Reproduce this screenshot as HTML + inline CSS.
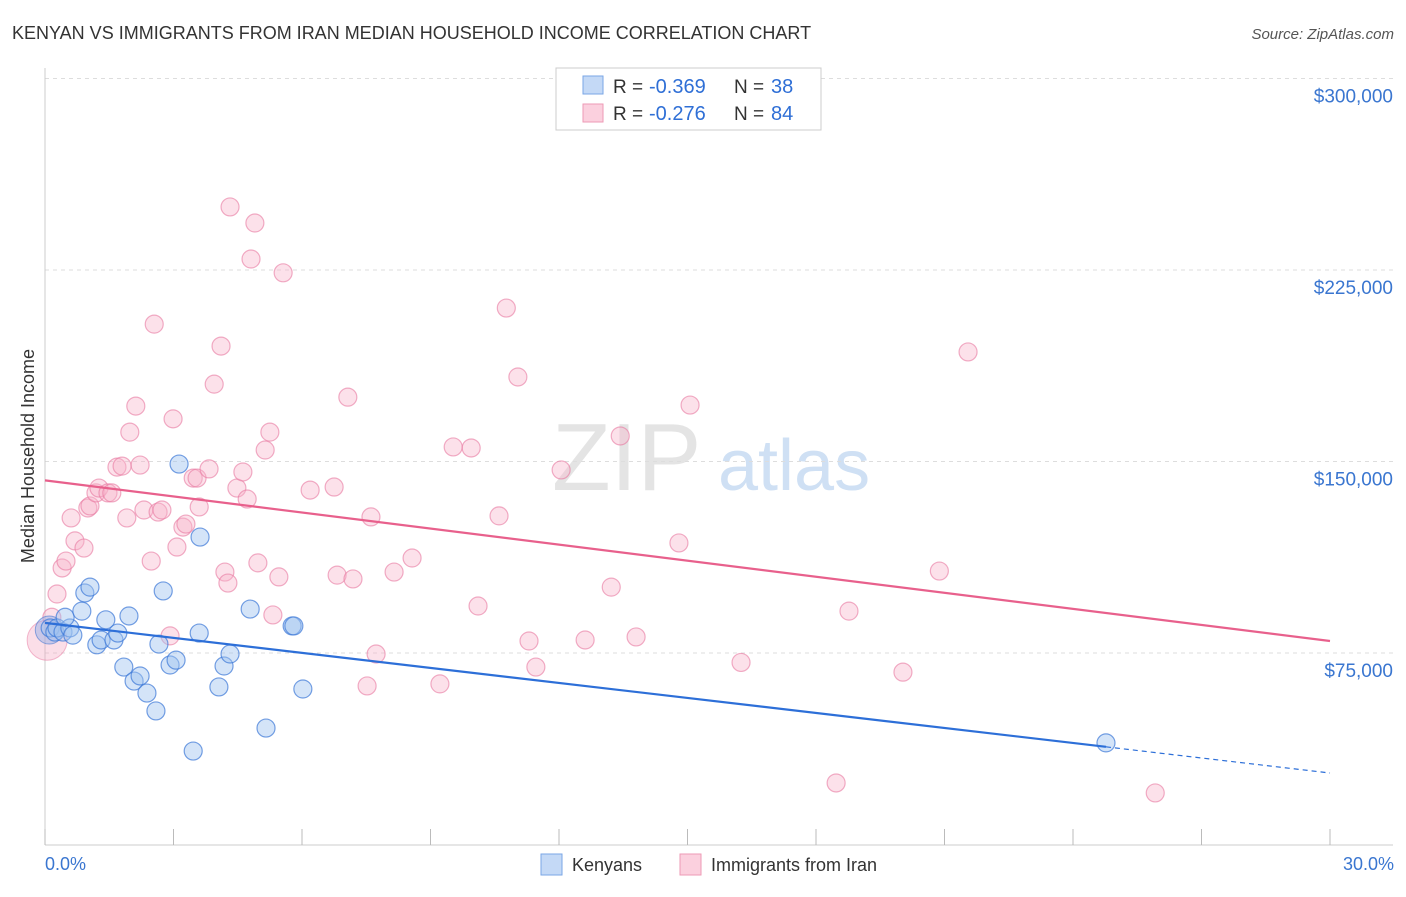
<!DOCTYPE html>
<html><head><meta charset="utf-8"><style>
body{margin:0;background:#fff;font-family:"Liberation Sans",sans-serif;}
svg text{font-family:"Liberation Sans",sans-serif;}
</style></head><body>
<svg id="chart" width="1406" height="892" xmlns="http://www.w3.org/2000/svg">
<text x="12" y="39" font-size="18" fill="#333">KENYAN VS IMMIGRANTS FROM IRAN MEDIAN HOUSEHOLD INCOME CORRELATION CHART</text>
<text x="1394" y="39" font-size="15" fill="#555" text-anchor="end" font-style="italic">Source: ZipAtlas.com</text>
<g><text x="552" y="490" font-size="96" fill="#e4e4e4" font-family="Liberation Serif,serif">ZIP</text><text x="718" y="490" font-size="72" fill="#cfe0f4">atlas</text></g>
<g id="grid"></g>
<line x1="45" y1="845" x2="1393" y2="845" stroke="#ccc"/>
<line x1="45" y1="68" x2="45" y2="845" stroke="#ccc"/>
<g id="ticks"></g>
<text transform="translate(34,456) rotate(-90)" font-size="18" fill="#333" text-anchor="middle">Median Household Income</text>
<text x="45" y="870" font-size="18" fill="#3a76d0">0.0%</text>
<text x="1394" y="870" font-size="18" fill="#3a76d0" text-anchor="end">30.0%</text>
<g id="pts"></g>
<g id="lines"></g>
<g>
<rect x="556" y="68" width="265" height="62" fill="#fff" stroke="#ccc"/>
<rect x="583" y="76" width="20" height="18" fill="#c4d9f6" stroke="#7aa6e6"/>
<rect x="583" y="104" width="20" height="18" fill="#fbd0de" stroke="#ee9ab5"/>
<text x="613" y="93" font-size="19" fill="#333">R = </text><text x="649" y="93" font-size="20" fill="#2f6fd6">-0.369</text>
<text x="734" y="93" font-size="19" fill="#333">N = </text><text x="771" y="93" font-size="20" fill="#2f6fd6">38</text>
<text x="613" y="120" font-size="19" fill="#333">R = </text><text x="649" y="120" font-size="20" fill="#2f6fd6">-0.276</text>
<text x="734" y="120" font-size="19" fill="#333">N = </text><text x="771" y="120" font-size="20" fill="#2f6fd6">84</text>
</g>
<g>
<rect x="541" y="854" width="21" height="21" fill="#c4d9f6" stroke="#7aa6e6"/>
<text x="572" y="871" font-size="18" fill="#333">Kenyans</text>
<rect x="680" y="854" width="21" height="21" fill="#fbd0de" stroke="#ee9ab5"/>
<text x="711" y="871" font-size="18" fill="#333">Immigrants from Iran</text>
</g>
</svg>
<script>
const yTicks=[75000,150000,225000,300000];
const yTickLabels=["$75,000","$150,000","$225,000","$300,000"];
const blueX=[0.12,0.23,0.28,0.42,0.58,0.65,0.47,0.86,0.93,1.05,1.21,1.31,1.42,1.61,1.70,1.84,1.96,2.08,2.22,2.38,2.59,2.66,2.76,2.92,3.06,3.13,3.46,3.60,3.62,4.06,4.18,4.32,4.79,5.16,5.77,5.81,6.02,24.77];
const blueY=[84.8,83.2,84.8,83.2,84.8,82.0,89.0,91.4,98.5,100.8,78.2,80.1,88.0,80.1,82.8,69.5,89.5,64.0,66.0,59.3,52.3,78.5,99.3,70.3,72.2,149.0,36.6,82.8,120.4,61.7,69.9,74.6,92.2,45.6,85.6,85.6,60.9,39.8];
const pinkX=[0.16,0.28,0.40,0.61,0.49,0.70,0.91,1.00,1.05,1.19,1.26,1.47,1.56,1.68,1.80,1.91,1.98,2.12,2.22,2.31,2.48,2.55,2.64,2.73,2.92,2.99,3.08,3.22,3.29,3.46,3.55,3.60,3.83,3.95,4.11,4.20,4.27,4.32,4.48,4.62,4.72,4.81,4.90,4.97,5.14,5.25,5.32,5.46,5.56,6.19,6.75,6.82,7.07,7.19,7.52,7.61,7.73,8.15,8.57,9.22,9.53,9.95,10.11,10.60,10.77,11.04,11.30,11.46,12.05,12.61,13.22,13.43,13.80,14.80,15.06,16.25,18.47,18.77,20.03,20.88,21.55,25.92];
const pinkY=[89.0,98.1,108.3,127.9,111.0,118.9,116.1,131.8,132.6,137.7,139.6,137.7,137.7,147.8,148.2,127.9,161.5,171.7,148.6,131.0,111.0,203.8,130.2,131.0,81.7,166.7,116.5,124.3,125.5,143.5,143.5,132.2,147.1,180.3,195.2,106.7,102.4,249.7,139.6,145.9,135.3,229.3,243.4,110.3,154.5,161.5,89.9,104.8,223.9,138.8,140.0,105.5,175.2,104.0,62.1,128.3,74.6,106.7,112.2,62.9,155.7,155.3,93.4,128.7,210.1,183.1,79.7,69.5,146.7,80.1,100.8,160.0,81.3,118.1,172.1,71.3,24.1,91.4,67.5,107.1,192.9,20.2];
const blueFit=[86.8,28.0];
const pinkFit=[142.6,79.7];
const NS="http://www.w3.org/2000/svg";
const X=v=>45+v/30*1285;
const Y=v=>844.5-v/75000*191.5;
const Yk=v=>Y(v*1000);
function mk(t,a,p){const e=document.createElementNS(NS,t);for(const k in a)e.setAttribute(k,a[k]);p.appendChild(e);return e;}
const grid=document.getElementById('grid');
yTicks.forEach((t,i)=>{
 const l=mk('line',{x1:45,x2:1393,y1:Y(t),y2:Y(t),stroke:'#ddd','stroke-dasharray':'4,4'},grid);
 
 
 const tx=mk('text',{x:1393,y:Y(t)+24,'font-size':19,fill:'#3a76d0','text-anchor':'end'},grid);
 tx.textContent=yTickLabels[i];
 
 
});
const ticks=document.getElementById('ticks');
for(let i=0;i<=10;i++){
 const l=mk('line',{x1:X(i*3),x2:X(i*3),y1:829,y2:845,stroke:'#bbb'},ticks);
 
 
}
const pts=document.getElementById('pts');
const big=mk('circle',{cx:X(0.05),cy:Yk(80),r:20,fill:'rgba(244,160,188,0.35)',stroke:'rgba(232,120,160,0.5)'},pts);


pinkX.forEach((x,i)=>{
 const c=mk('circle',{cx:X(x),cy:Yk(pinkY[i]),r:9,fill:'rgba(248,180,202,0.4)',stroke:'rgba(232,120,160,0.6)','stroke-width':1.2},pts);
 
 
});
const bb=mk('circle',{cx:X(0.1),cy:Yk(84),r:14,fill:'rgba(140,170,230,0.45)',stroke:'rgba(70,120,210,0.6)'},pts);


blueX.forEach((x,i)=>{
 const c=mk('circle',{cx:X(x),cy:Yk(blueY[i]),r:9,fill:'rgba(160,195,240,0.45)',stroke:'rgba(60,120,215,0.7)','stroke-width':1.2},pts);
 
 
});
const lines=document.getElementById('lines');
const bf=x=>blueFit[0]+(blueFit[1]-blueFit[0])*x/30;
const pf=x=>pinkFit[0]+(pinkFit[1]-pinkFit[0])*x/30;
const pl=mk('line',{x1:X(0),y1:Yk(pf(0)),x2:X(30),y2:Yk(pf(30)),stroke:'#e8608c','stroke-width':2.2},lines);


const bl=mk('line',{x1:X(0),y1:Yk(bf(0)),x2:X(24.77),y2:Yk(bf(24.77)),stroke:'#2d6fd8','stroke-width':2.2},lines);


const bd=mk('line',{x1:X(24.77),y1:Yk(bf(24.77)),x2:X(30),y2:Yk(bf(30)),stroke:'#2d6fd8','stroke-width':1.2,'stroke-dasharray':'5,4'},lines);


</script>
</body></html>
